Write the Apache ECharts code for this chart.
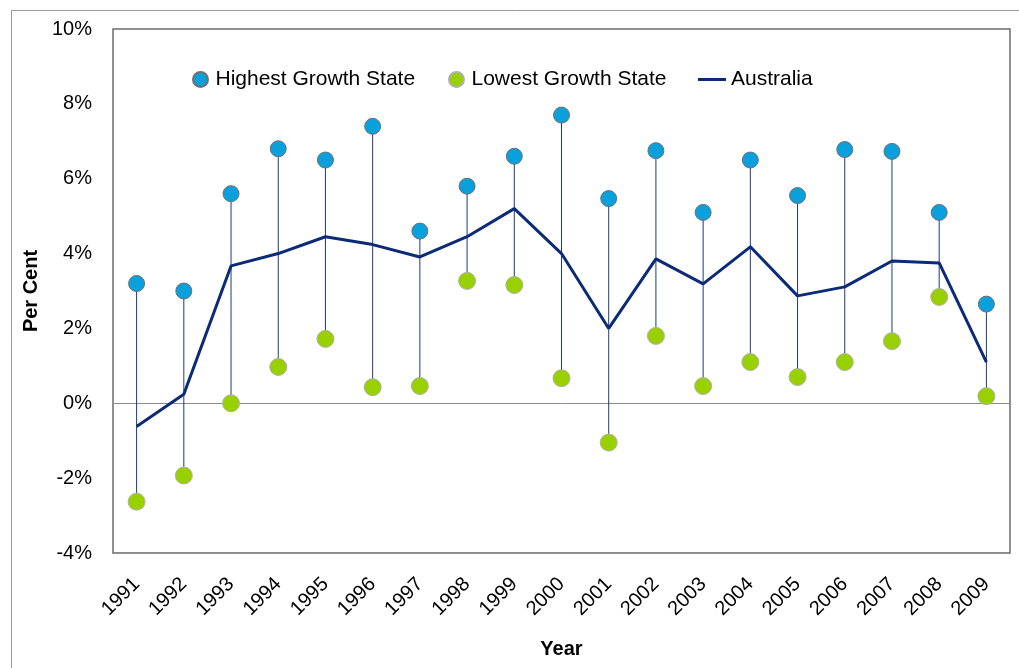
<!DOCTYPE html>
<html>
<head>
<meta charset="utf-8">
<script src="https://cdn.jsdelivr.net/npm/echarts@6/dist/echarts.min.js"></script>
<style>
html,body{margin:0;padding:0;background:#fff;}
#chart{width:1019px;height:668px;}
</style>
</head>
<body>
<div id="chart"></div>
<script>
// 年份
var years = ['1991','1992','1993','1994','1995','1996','1997','1998','1999','2000',
             '2001','2002','2003','2004','2005','2006','2007','2008','2009'];
// 增长最快的州
var highest = [3.2, 3.0, 5.6, 6.8, 6.5, 7.4, 4.6, 5.8, 6.6, 7.7,
               5.47, 6.75, 5.1, 6.5, 5.55, 6.78, 6.73, 5.1, 2.65];
// 增长最慢的州
var lowest = [-2.63, -1.93, 0.0, 0.97, 1.72, 0.43, 0.46, 3.27, 3.16, 0.67,
              -1.05, 1.8, 0.46, 1.1, 0.7, 1.1, 1.66, 2.84, 0.19];
// 全澳
var australia = [-0.62, 0.24, 3.67, 4.0, 4.45, 4.24, 3.91, 4.45, 5.2, 4.0,
                 2.0, 3.86, 3.19, 4.18, 2.87, 3.11, 3.8, 3.75, 1.1];

var font = 'Liberation Sans, Arial, sans-serif';
var legendText = {fontFamily: font, fontSize: 21, color: '#000'};

var myChart = echarts.init(document.getElementById('chart'));

// 竖线: 最高到最低
var stemData = years.map(function(y, i){ return [i, highest[i], lowest[i]]; });

var options = {
    backgroundColor: '#fff',
    animation: false,
    graphic: [{
        type: 'rect',
        shape: {x: 11.5, y: 10.5, width: 1040, height: 700},
        style: {fill: 'none', stroke: '#9a9a9a', lineWidth: 1},
        silent: true
    }],
    grid: {
        left: 113, right: 9, top: 29, bottom: 115,
        outerBoundsMode: 'none',
        show: true, borderColor: '#6b6b6b', borderWidth: 1.5
    },
    // 图例分三块放, 位置好对齐
    legend: [
        {
            left: 187, top: 64, itemWidth: 20, itemHeight: 15, itemGap: 0,
            textStyle: legendText,
            data: [{name: 'Highest Growth State', icon: 'circle'}]
        },
        {
            left: 443, top: 64, itemWidth: 20, itemHeight: 15, itemGap: 0,
            textStyle: legendText,
            data: [{name: 'Lowest Growth State', icon: 'circle'}]
        },
        {
            left: 693, top: 64, itemWidth: 28, itemHeight: 15, itemGap: 0,
            textStyle: legendText,
            data: [{name: 'Australia', icon: 'path://M0,0 L28,0 L28,3 L0,3 Z'}]
        }
    ],
    xAxis: {
        type: 'category',
        data: years,
        boundaryGap: true,
        name: 'Year',
        nameLocation: 'middle',
        nameGap: 86,
        nameTextStyle: {fontFamily: font, fontSize: 20, fontWeight: 'bold', color: '#000'},
        axisLine: {onZero: true, lineStyle: {color: '#8c8c8c', width: 1}},
        axisTick: {show: false},
        axisLabel: {
            interval: 0, rotate: 45, margin: 28,
            fontFamily: font, fontSize: 20, color: '#000'
        }
    },
    yAxis: {
        type: 'value',
        min: -4, max: 10, interval: 2,
        name: 'Per Cent',
        nameLocation: 'middle',
        nameGap: 71,
        nameRotate: 90,
        nameTextStyle: {fontFamily: font, fontSize: 20, fontWeight: 'bold', color: '#000'},
        axisLine: {show: false},
        axisTick: {show: false},
        splitLine: {show: false},
        axisLabel: {
            margin: 21,
            fontFamily: font, fontSize: 20, color: '#000',
            formatter: function(v){ return v + '%'; }
        }
    },
    series: [
        {
            name: 'stems',
            type: 'custom',
            silent: true,
            z: 1,
            data: stemData,
            renderItem: function(params, api){
                var p1 = api.coord([api.value(0), api.value(1)]);
                var p2 = api.coord([api.value(0), api.value(2)]);
                return {
                    type: 'line',
                    shape: {x1: p1[0], y1: p1[1], x2: p2[0], y2: p2[1]},
                    style: {stroke: '#1c3a80', lineWidth: 1}
                };
            }
        },
        {
            name: 'Australia',
            type: 'line',
            data: australia,
            symbol: 'none',
            z: 3,
            lineStyle: {color: '#0b2a78', width: 3},
            itemStyle: {color: '#0b2a78'}
        },
        {
            name: 'Highest Growth State',
            type: 'scatter',
            data: highest,
            symbolSize: 16,
            z: 4,
            itemStyle: {color: '#0aa0dc', borderColor: '#707070', borderWidth: 1, opacity: 1}
        },
        {
            name: 'Lowest Growth State',
            type: 'scatter',
            data: lowest,
            symbolSize: 17,
            z: 4,
            itemStyle: {color: '#99d000', borderColor: '#b0b0b0', borderWidth: 1, opacity: 1}
        }
    ]
};
myChart.setOption(options);
</script>
</body>
</html>
